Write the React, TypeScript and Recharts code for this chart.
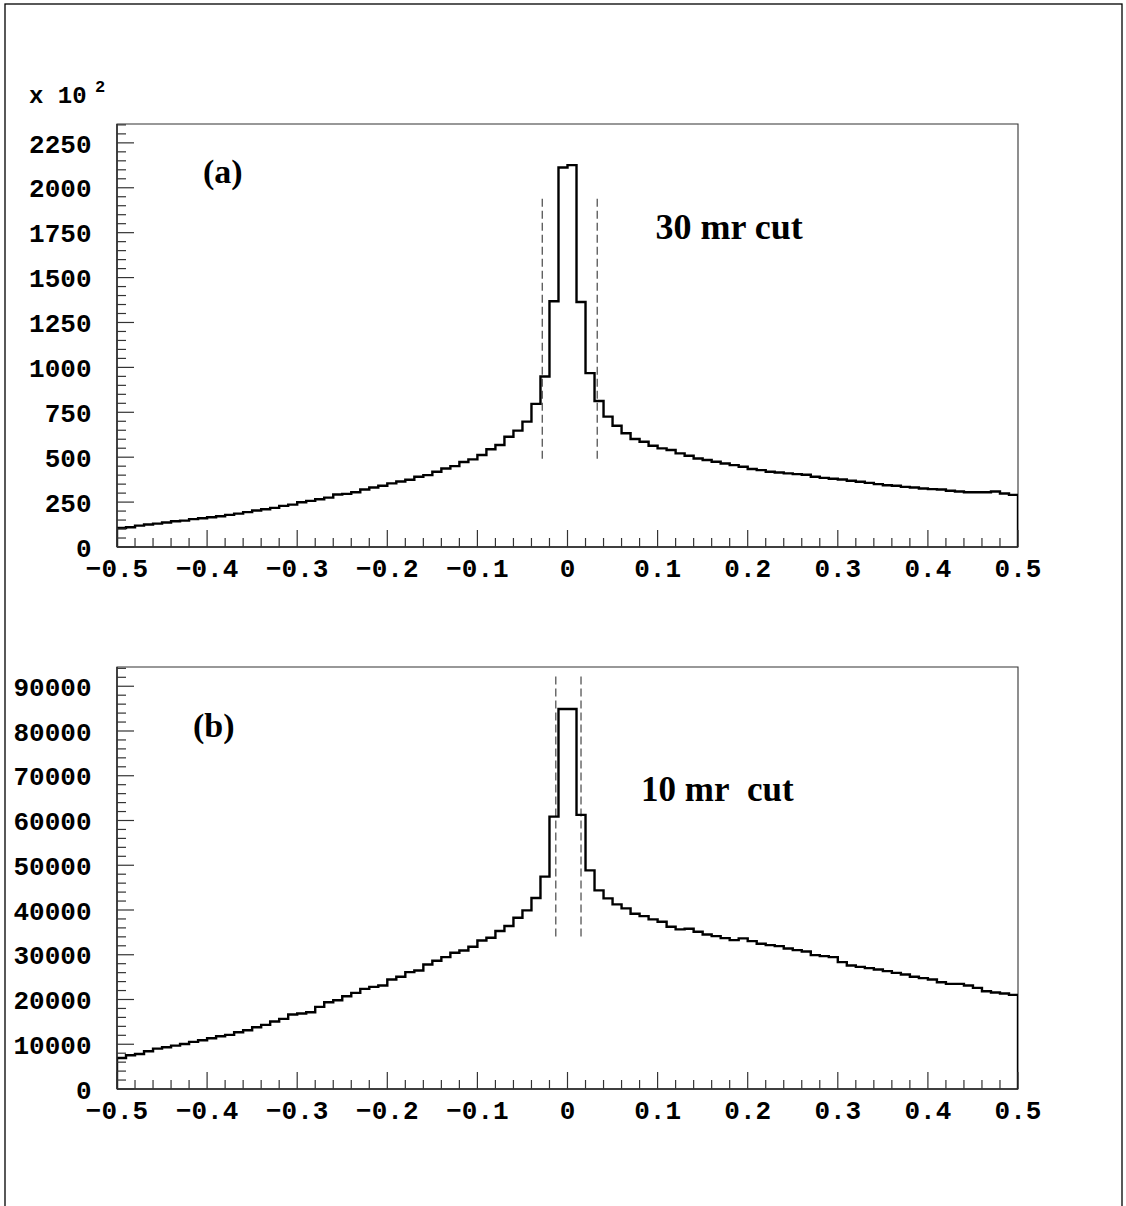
import React from 'react';
import { ComposedChart, Line, XAxis, YAxis, ReferenceArea, ReferenceLine } from 'recharts';

// ---------- data ----------
const X_MIN = -0.5;
const X_MAX = 0.5;
const BIN_WIDTH = 0.01;

// panel (a): counts per 0.01 bin, in units of 10^2
const countsA = [
  106, 110, 119, 125, 130, 136, 143, 147, 155, 160,
  166, 171, 179, 186, 194, 203, 210, 218, 229, 236,
  249, 257, 266, 275, 292, 296, 305, 320, 331, 341,
  354, 365, 374, 391, 400, 419, 437, 450, 473, 488,
  512, 544, 568, 614, 648, 698, 797, 949, 1368, 2113,
  2126, 1364, 968, 813, 726, 675, 633, 601, 586, 564,
  549, 540, 521, 508, 493, 484, 475, 465, 456, 447,
  434, 428, 419, 415, 410, 406, 402, 391, 385, 380,
  376, 369, 363, 357, 350, 344, 341, 335, 331, 326,
  322, 320, 313, 309, 305, 305, 305, 309, 298, 290,
];

// panel (b): counts per 0.01 bin
const countsB = [
  6940, 7530, 7830, 8430, 9030, 9330, 9700, 10070, 10520, 10890,
  11340, 11790, 12090, 12680, 13130, 13800, 14320, 15070, 15670, 16640,
  16860, 17160, 18350, 19400, 19840, 20740, 21490, 22380, 22830, 23130,
  24470, 25070, 26110, 26480, 27830, 28650, 29470, 30440, 30960, 31780,
  33200, 33790, 35290, 36410, 38270, 39910, 42670, 47450, 60870, 84900,
  84900, 61250, 48860, 44390, 42600, 41250, 40360, 39170, 38640, 37900,
  37380, 36260, 35660, 35810, 35140, 34540, 34170, 33720, 33270, 33650,
  33050, 32450, 32150, 31930, 31410, 31030, 30740, 29920, 29690, 29470,
  28350, 27600, 27300, 27010, 26710, 26330, 25960, 25590, 25070, 24770,
  24470, 23870, 23500, 23500, 23130, 22600, 21860, 21560, 21340, 21040,
];

const xMajorTicks = [-0.5, -0.4, -0.3, -0.2, -0.1, 0, 0.1, 0.2, 0.3, 0.4, 0.5];
const xTickLabels = ['\u22120.5', '\u22120.4', '\u22120.3', '\u22120.2', '\u22120.1', '0', '0.1', '0.2', '0.3', '0.4', '0.5'];

const yMajorTicksA = [0, 250, 500, 750, 1000, 1250, 1500, 1750, 2000, 2250];
const yTickLabelsA = ['0', '250', '500', '750', '1000', '1250', '1500', '1750', '2000', '2250'];
const yMaxA = 2355;

const yMajorTicksB = [0, 10000, 20000, 30000, 40000, 50000, 60000, 70000, 80000, 90000];
const yTickLabelsB = ['0', '10000', '20000', '30000', '40000', '50000', '60000', '70000', '80000', '90000'];
const yMaxB = 94300;

const cutLinesA = [-0.028, 0.033];
const cutRangeA = [492, 1945];
const cutLinesB = [-0.013, 0.015];
const cutRangeB = [34100, 92500];

// ---------- helpers ----------
const withMinor = (majors: number[], parts: number, extraTop?: number) => {
  const out: number[] = [];
  for (let i = 0; i < majors.length - 1; i++) {
    const a = majors[i];
    const b = majors[i + 1];
    for (let k = 0; k < parts; k++) out.push(a + ((b - a) * k) / parts);
  }
  out.push(majors[majors.length - 1]);
  if (extraTop !== undefined) {
    const step = (majors[1] - majors[0]) / parts;
    let v = majors[majors.length - 1] + step;
    while (v <= extraTop + 1e-9) {
      out.push(v);
      v += step;
    }
  }
  return out;
};

const histPoints = (counts: number[]) => {
  const pts: { x: number; y: number }[] = [{ x: X_MIN, y: 0 }];
  counts.forEach((c, i) => pts.push({ x: X_MIN + i * BIN_WIDTH, y: c }));
  pts.push({ x: X_MAX, y: counts[counts.length - 1] });
  pts.push({ x: X_MAX, y: 0 });
  return pts;
};

const MONO = "'Liberation Mono', 'Courier New', monospace";
const SERIF = "'Liberation Serif', 'Times New Roman', serif";
const TICK_COLOR = '#333';

const findMajor = (majors: number[], v: number) => {
  const span = Math.abs(majors[majors.length - 1] - majors[0]) || 1;
  return majors.findIndex((m) => Math.abs(m - v) < span * 1e-6);
};

const makeXTick = (majors: number[], labels: string[]) => (props: any) => {
  const { x, y, payload } = props;
  const idx = findMajor(majors, payload.value);
  const len = idx >= 0 ? 17 : 9;
  return (
    <g>
      <line x1={x} y1={y} x2={x} y2={y - len} stroke={TICK_COLOR} strokeWidth={1.2} />
      {idx >= 0 && (
        <text x={x} y={y + 29.5} textAnchor="middle" fontFamily={MONO} fontWeight="bold" fontSize={26} fill="#000">
          {labels[idx]}
        </text>
      )}
    </g>
  );
};

const makeYTick = (majors: number[], labels: string[]) => (props: any) => {
  const { x, y, payload } = props;
  const idx = findMajor(majors, payload.value);
  const len = idx >= 0 ? 17 : 9;
  return (
    <g>
      <line x1={x} y1={y} x2={x + len} y2={y} stroke={TICK_COLOR} strokeWidth={1.2} />
      {idx >= 0 && (
        <text x={x - 25.5} y={y + 9.7} textAnchor="end" fontFamily={MONO} fontWeight="bold" fontSize={26} fill="#000">
          {labels[idx]}
        </text>
      )}
    </g>
  );
};

const xAllTicks = withMinor(xMajorTicks, 5);

type PanelProps = {
  counts: number[];
  yMajors: number[];
  yLabels: string[];
  yMax: number;
  cutLines: number[];
  cutRange: number[];
  height: number;
  marginTop: number;
  marginBottom: number;
};

const Panel = ({ counts, yMajors, yLabels, yMax, cutLines, cutRange, height, marginTop, marginBottom }: PanelProps) => {
  const data = histPoints(counts);
  const yAllTicks = withMinor(yMajors, 5, yMax);
  return (
    <ComposedChart
      width={1126}
      height={height}
      data={data}
      margin={{ top: marginTop, right: 108, bottom: marginBottom, left: 0 }}
    >
      <XAxis
        type="number"
        dataKey="x"
        domain={[X_MIN, X_MAX]}
        ticks={xAllTicks}
        interval={0}
        tickSize={0}
        tickMargin={0}
        tick={makeXTick(xMajorTicks, xTickLabels)}
        axisLine={{ stroke: '#222', strokeWidth: 1.4 }}
        tickLine={false}
        height={40}
        allowDataOverflow
      />
      <YAxis
        type="number"
        domain={[0, yMax]}
        ticks={yAllTicks}
        interval={0}
        tickSize={0}
        tickMargin={0}
        tick={makeYTick(yMajors, yLabels)}
        axisLine={{ stroke: '#222', strokeWidth: 1.4 }}
        tickLine={false}
        width={117}
        allowDataOverflow
      />
      <ReferenceArea x1={X_MIN} x2={X_MAX} y1={0} y2={yMax} fill="none" stroke="#333" strokeWidth={1.1} ifOverflow="visible" />
      {cutLines.map((cx, i) => (
        <ReferenceLine
          key={i}
          segment={[
            { x: cx, y: cutRange[0] },
            { x: cx, y: cutRange[1] },
          ]}
          stroke="#555"
          strokeWidth={1.3}
          strokeDasharray="8 4"
          ifOverflow="visible"
        />
      ))}
      <Line
        type="stepAfter"
        dataKey="y"
        stroke="#000"
        strokeWidth={2.4}
        dot={false}
        activeDot={false}
        isAnimationActive={false}
        strokeLinejoin="miter"
        strokeLinecap="square"
      />
    </ComposedChart>
  );
};

export default function App() {
  return (
    <div style={{ position: 'absolute', left: 0, top: 0, width: 1126, height: 1206, background: '#fff', overflow: 'hidden' }}>
      <div style={{ position: 'absolute', left: 0, top: 0 }}>
        <Panel
          counts={countsA}
          yMajors={yMajorTicksA}
          yLabels={yTickLabelsA}
          yMax={yMaxA}
          cutLines={cutLinesA}
          cutRange={cutRangeA}
          height={600}
          marginTop={124}
          marginBottom={13}
        />
      </div>
      <div style={{ position: 'absolute', left: 0, top: 600 }}>
        <Panel
          counts={countsB}
          yMajors={yMajorTicksB}
          yLabels={yTickLabelsB}
          yMax={yMaxB}
          cutLines={cutLinesB}
          cutRange={cutRangeB}
          height={606}
          marginTop={67}
          marginBottom={77}
        />
      </div>
      <svg
        width={1126}
        height={1206}
        style={{ position: 'absolute', left: 0, top: 0, pointerEvents: 'none' }}
      >
        <rect x={5} y={4} width={1117} height={1230} fill="none" stroke="#000" strokeWidth={1.3} />
        <text x={29} y={102.5} fontFamily={MONO} fontWeight="bold" fontSize={24} fill="#000">x 10</text>
        <text x={95} y={92} fontFamily={MONO} fontWeight="bold" fontSize={17} fill="#000">2</text>
        <text x={203} y={182.5} fontFamily={SERIF} fontWeight="bold" fontSize={34} fill="#000">(a)</text>
        <text x={655.5} y={239.3} fontFamily={SERIF} fontWeight="bold" fontSize={36} fill="#000">30 mr cut</text>
        <text x={193} y={736.6} fontFamily={SERIF} fontWeight="bold" fontSize={34} fill="#000">(b)</text>
        <text x={641} y={801} fontFamily={SERIF} fontWeight="bold" fontSize={35} fill="#000">{'10 mr\u00A0 cut'}</text>
      </svg>
    </div>
  );
}
